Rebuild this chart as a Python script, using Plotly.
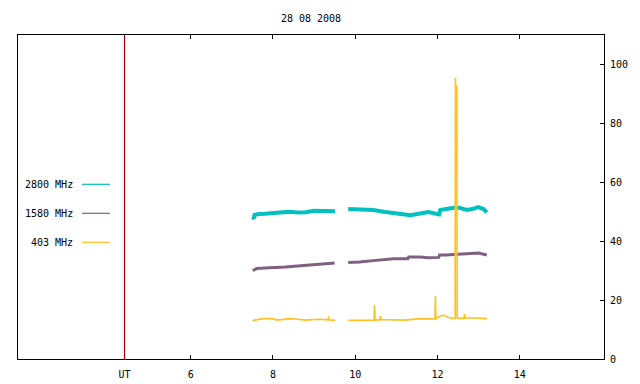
import plotly.graph_objects as go

# ---- data (hours UT, flux) ----
hours_2800 = [7.51, 7.53, 7.55, 7.65, 7.8, 8.0, 8.2, 8.4, 8.6, 8.8, 9.0, 9.2, 9.4, 9.51, None,
              9.83, 10.12, 10.44, 10.69, 10.93, 11.17, 11.34, 11.58, 11.78, 11.94, 12.04, 12.07,
              12.23, 12.43, 12.55, 12.71, 12.87, 12.99, 13.12, 13.2]
flux_2800 = [48.1, 47.6, 48.9, 49.2, 49.3, 49.6, 49.8, 50.0, 49.7, 49.8, 50.3, 50.3, 50.3, 50.2, None,
             50.9, 50.8, 50.6, 50.0, 49.5, 49.2, 48.8, 49.4, 49.9, 49.4, 49.1, 50.6,
             51.0, 51.4, 51.3, 50.6, 51.0, 51.6, 50.9, 49.8]

hours_1580 = [7.51, 7.6, 7.8, 8.0, 8.3, 8.6, 8.9, 9.2, 9.5, None,
              9.83, 10.1, 10.44, 10.69, 10.93, 11.28, 11.3, 11.58, 11.78, 12.03, 12.05,
              12.2, 12.5, 12.8, 13.0, 13.2]
flux_1580 = [30.0, 30.7, 30.9, 31.0, 31.2, 31.6, 31.9, 32.3, 32.6, None,
             32.8, 32.9, 33.4, 33.6, 34.0, 34.0, 34.6, 34.6, 34.4, 34.5, 35.3,
             35.3, 35.5, 35.9, 36.0, 35.3]

hours_403 = [7.51, 7.55, 7.77, 8.0, 8.1, 8.42, 8.6, 8.8, 9.1, 9.34, 9.35, 9.36, 9.51, None,
             9.83, 10.2, 10.46, 10.47, 10.48, 10.6, 10.61, 10.62, 10.8, 11.2, 11.6, 11.94,
             11.95, 11.96, 12.05, 12.15, 12.25, 12.35, 12.43, 12.437, 12.442, 12.472, 12.478,
             12.5, 12.65, 12.66, 12.67, 12.9, 13.1, 13.2]
flux_403 = [12.9, 13.2, 13.7, 13.7, 13.2, 13.7, 13.5, 13.2, 13.5, 13.3, 14.5, 13.3, 13.1, None,
            13.1, 13.2, 13.2, 18.3, 13.2, 13.3, 14.6, 13.4, 13.4, 13.2, 13.7, 13.6,
            21.4, 13.7, 14.4, 14.9, 14.2, 13.8, 13.8, 95.5, 92.5, 92.5, 14.0,
            13.8, 13.8, 15.3, 13.9, 13.9, 13.9, 13.7]

x_tick_vals = [4.39, 6, 8, 10, 12, 14]
x_tick_text = ["UT", "6", "8", "10", "12", "14"]
y_tick_vals = [0, 20, 40, 60, 80, 100]
ut_marker = 4.39

series = [
    ("2800 MHz", hours_2800, flux_2800, "#00c0c0", 4),
    ("1580 MHz", hours_1580, flux_1580, "#806080", 3),
    ("403 MHz", hours_403, flux_403, "#ffc020", 1.6),
]

FONT = "DejaVu Sans Mono"
OFF = 8  # page body margin
W, H = 640 - OFF, 384 - OFF
L, R, T, B = 18 - OFF, 36, 35 - OFF, 25
pw, ph = W - L - R, H - T - B

fig = go.Figure()
for name, xs, ys, col, lw in series:
    fig.add_trace(go.Scatter(x=xs, y=ys, mode="lines", name=name,
                             line=dict(color=col, width=lw), connectgaps=False,
                             showlegend=False))

# UT marker line
fig.add_shape(type="line", xref="x", yref="paper", x0=ut_marker, x1=ut_marker, y0=0, y1=1,
              line=dict(color="#a00000", width=1.2))

# gnuplot-style key (text then line sample); positions in page pixels
key_y_px = [184.3, 213.3, 242.3]
for (name, xs, ys, col, lw), py in zip(series, key_y_px):
    yp = (384 - B - py) / ph
    fig.add_annotation(xref="paper", yref="paper", x=(75 - 18) / pw, y=yp, text=name,
                       showarrow=False, xanchor="right", yanchor="middle",
                       font=dict(family=FONT, size=10, color="black"))
    fig.add_shape(type="line", xref="paper", yref="paper",
                  x0=(82 - 18) / pw, x1=(110 - 18) / pw, y0=yp, y1=yp,
                  line=dict(color=col, width=1.2))

fig.update_layout(
    width=W, height=H,
    margin=dict(l=L, r=R, t=T, b=B, pad=0, autoexpand=False),
    paper_bgcolor="white", plot_bgcolor="white",
    font=dict(family=FONT, size=10, color="black"),
    title=dict(text="28 08 2008", x=(311 - OFF) / W, xanchor="center",
               y=1 - (18 - OFF) / H, yanchor="middle", font=dict(family=FONT, size=10)),
    xaxis=dict(range=[1.8, 16.05], tickvals=x_tick_vals, ticktext=x_tick_text,
               ticks="inside", ticklen=4, tickcolor="black", showgrid=False, zeroline=False,
               showline=True, linecolor="black", linewidth=1, mirror="ticks",
               ticklabelstandoff=6),
    yaxis=dict(range=[0, 110], tickvals=y_tick_vals, side="right",
               ticks="inside", ticklen=4, tickcolor="black", showgrid=False, zeroline=False,
               showline=True, linecolor="black", linewidth=1, mirror=True,
               ticklabelstandoff=3),
)

fig.write_html("out.html")
